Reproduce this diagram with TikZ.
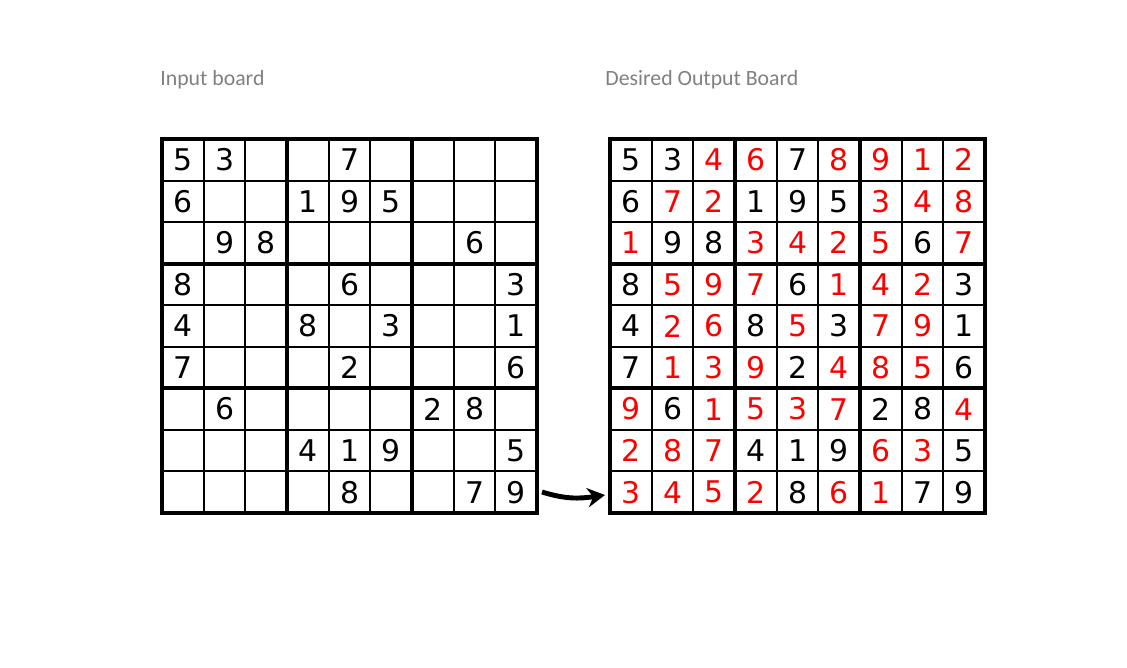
\documentclass[tikz,border=0pt]{standalone}
\usepackage{fontspec}
\setsansfont{DejaVu Sans}
\newfontfamily\captionfont{Carlito}
\usetikzlibrary{arrows.meta}
\colorlet{k}{black}
\definecolor{r}{RGB}{255,0,0}
\definecolor{captiongray}{RGB}{128,128,128}

\begin{document}
\begin{tikzpicture}[x=0.02cm, y=-0.02cm,
	thin grid/.style={line width=1.1pt},
	thick grid/.style={line width=2.3pt, line cap=rect},
	digit/.style={font=\sffamily\fontsize{17}{20}\selectfont, inner sep=0pt},
	board caption/.style={font=\captionfont\fontsize{12.4}{15}\selectfont, text=captiongray, anchor=base west, inner sep=0pt},
	flow arrow/.style={line width=2.8pt, -{Stealth[length=10pt, width=11pt]}}]
		%%%%% START %%%%%
		\useasboundingbox (0,0) rectangle (1127,667);
		
		\node[board caption] (inputCaption) at (160,85) {Input board};
		\node[board caption] (outputCaption) at (605,85) {Desired Output Board};
		
		% grids of both boards
		\foreach \ox in {162,610} {
			\foreach \i in {1,2,4,5,7,8} {
				\draw[thin grid] ({\ox+\i*375/9},139) -- ({\ox+\i*375/9},513);
				\draw[thin grid] (\ox,{139+\i*374/9}) -- ({\ox+375},{139+\i*374/9});
			}
			\foreach \i in {0,3,6,9} {
				\draw[thick grid] ({\ox+\i*375/9},139) -- ({\ox+\i*375/9},513);
				\draw[thick grid] (\ox,{139+\i*374/9}) -- ({\ox+375},{139+\i*374/9});
			}
		}
		
		% input board
		\foreach \r/\row in {1/{5,3,0,0,7,0,0,0,0}, 2/{6,0,0,1,9,5,0,0,0}, 3/{0,9,8,0,0,0,0,6,0},
			4/{8,0,0,0,6,0,0,0,3}, 5/{4,0,0,8,0,3,0,0,1}, 6/{7,0,0,0,2,0,0,0,6},
			7/{0,6,0,0,0,0,2,8,0}, 8/{0,0,0,4,1,9,0,0,5}, 9/{0,0,0,0,8,0,0,7,9}} {
			\foreach \d [count=\c] in \row {
				\ifnum\d>0
					\node[digit] (in-\r-\c) at ({162+(\c-0.5)*375/9},{139+(\r-0.5)*374/9}) {\d};
				\fi
			}
		}
		
		% output board (k = given, r = filled in)
		\foreach \r/\row in {1/{5/k,3/k,4/r,6/r,7/k,8/r,9/r,1/r,2/r},
			2/{6/k,7/r,2/r,1/k,9/k,5/k,3/r,4/r,8/r},
			3/{1/r,9/k,8/k,3/r,4/r,2/r,5/r,6/k,7/r},
			4/{8/k,5/r,9/r,7/r,6/k,1/r,4/r,2/r,3/k},
			5/{4/k,2/r,6/r,8/k,5/r,3/k,7/r,9/r,1/k},
			6/{7/k,1/r,3/r,9/r,2/k,4/r,8/r,5/r,6/k},
			7/{9/r,6/k,1/r,5/r,3/r,7/r,2/k,8/k,4/r},
			8/{2/r,8/r,7/r,4/k,1/k,9/k,6/r,3/r,5/k},
			9/{3/r,4/r,5/r,2/r,8/k,6/r,1/r,7/k,9/k}} {
			\foreach \d/\col [count=\c] in \row {
				\node[digit, text=\col] (out-\r-\c) at ({610+(\c-0.5)*375/9},{139+(\r-0.5)*374/9}) {\d};
			}
		}
		
		\coordinate (inTail) at (542,492);
		\coordinate (outTip) at (605,495);
		\draw[flow arrow] (inTail) .. controls (565,499) and (578,499) .. (outTip);
		
		%%%%% END %%%%%
\end{tikzpicture}
\end{document}
